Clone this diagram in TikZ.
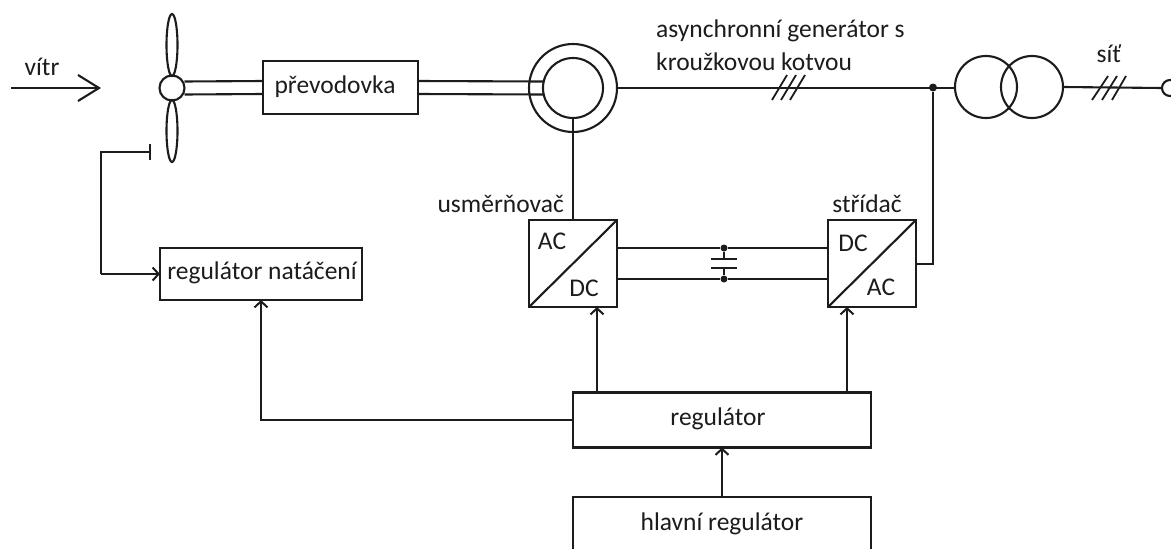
\documentclass[tikz,border=0pt]{standalone}
\usepackage{fontspec}
\setmainfont{Carlito}
\usetikzlibrary{arrows.meta,shapes.geometric}
\definecolor{ink}{HTML}{1C1C1C}
\tikzset{
  wire/.style={draw=ink,line width=2.1pt},
  arr/.style={wire,-{Straight Barb[length=6pt,width=13pt,line width=2pt]}},
  bigarr/.style={wire,-{Straight Barb[length=21pt,width=26pt,line width=2.1pt]}},
  tee/.style={wire,-{Bar[width=16pt,line width=2.1pt]}},
  blockbox/.style={draw=ink,line width=2.1pt,rectangle,inner sep=0pt,outer sep=0pt},
  ring/.style={draw=ink,line width=2.1pt,circle,inner sep=0pt,outer sep=0pt},
  blade/.style={draw=ink,line width=2.1pt,ellipse,inner sep=0pt,outer sep=0pt,minimum width=11pt,minimum height=62pt},
  lab/.style={text=ink,inner sep=0pt,font=\fontsize{25.5}{25.5}\selectfont},
  dotn/.style={circle,fill=ink,inner sep=0pt,minimum size=8pt},
  tick/.style={draw=ink,line width=1.8pt}
}
\begin{document}
\begin{tikzpicture}[x=1pt,y=-1pt]
\useasboundingbox (0,0) rectangle (1171,549);
\clip (0,0) rectangle (1171,549);
\fill[white] (0,0) rectangle (1171,549);

% boxes
\node[blockbox,minimum width=155pt,minimum height=53pt] (gear) at (340.5,87.5) {};
\node[lab] (gearlabel) at (335,87) {převodovka};
\node[blockbox,minimum width=202pt,minimum height=52pt] (pitch) at (261,274) {};
\node[lab] (pitchlabel) at (262,273) {regulátor natáčení};
\node[blockbox,minimum width=88pt,minimum height=87pt] (rect) at (573,263.5) {};
\node[blockbox,minimum width=88pt,minimum height=87pt] (inv) at (872,263.5) {};
\node[blockbox,minimum width=298pt,minimum height=55pt] (reg) at (722,420) {};
\node[lab] (reglabel) at (718,419) {regulátor};
\node[blockbox,minimum width=298pt,minimum height=80pt] (main) at (722,537) {};
\node[lab] (mainlabel) at (722,524) {hlavní regulátor};

% rotor
\node[ring,minimum size=25pt] (hub) at (172,88) {};
\node[blade] (bladeup) at (172,45) {};
\node[blade] (bladedown) at (172,131) {};

% generator
\node[ring,minimum size=88pt] (genout) at (573,88) {};
\node[ring,minimum size=60pt] (genin) at (573,88) {};

% transformer
\node[ring,minimum size=62pt] (tra) at (986,87) {};
\node[ring,minimum size=62pt] (trb) at (1032,87) {};

% grid terminal
\node[ring,minimum size=16pt] (term) at (1170,88) {};

% named free ends and junctions
\coordinate (windstart) at (11,88);
\coordinate (windend) at (101,88);
\coordinate (pitchbar) at (151,152);
\node[dotn] (junc) at (933,87.5) {};
\node[dotn,minimum size=7pt] (captop) at (724,248) {};
\node[dotn,minimum size=7pt] (capbot) at (724,279) {};
\coordinate (platea) at (724,259);
\coordinate (plateb) at (724,268);

% text
\node[lab] (vitr) at (42,67) {vítr};
\node[lab,anchor=west] (gena) at (656,31) {asynchronní generátor s};
\node[lab,anchor=west] (genb) at (656,62) {kroužkovou kotvou};
\node[lab] (sit) at (1109,54) {síť};
\node[lab,anchor=east] (usm) at (564,204) {usměrňovač};
\node[lab] (str) at (867,204) {střídač};
\node[lab] (acr) at (552,241) {AC};
\node[lab] (dcr) at (584,288) {DC};
\node[lab] (dci) at (853,243) {DC};
\node[lab] (aci) at (881,287) {AC};

% connectors
\draw[bigarr] (windstart) -- (windend);
\draw[wire] ([yshift=6.5pt]hub.east) -- ([yshift=6.5pt]gear.west);
\draw[wire] ([yshift=-6.5pt]hub.east) -- ([yshift=-6.5pt]gear.west);
\draw[wire] ([yshift=6.5pt]gear.east) -- ([yshift=6.5pt]genin.west);
\draw[wire] ([yshift=-6.5pt]gear.east) -- ([yshift=-6.5pt]genin.west);
\draw[wire] (genout.east) -- (tra.west |- genout.east);
\draw[wire] (trb.east) -- (term.west);
\draw[wire] (genin.south) -- (rect.north);
\draw[wire] (rect.south west) -- (rect.north east);
\draw[wire] (inv.south west) -- (inv.north east);
\draw[wire] ([yshift=-0.5pt]inv.east) -- ([yshift=-0.5pt]inv.east -| junc) -- (junc);
\draw[wire] (rect.east |- captop) -- (captop) -- (inv.west |- captop);
\draw[wire] (rect.east |- capbot) -- (capbot) -- (inv.west |- capbot);
\draw[wire] (captop) -- (platea);
\draw[wire] (capbot) -- (plateb);
\draw[wire] ([xshift=-13pt]platea) -- ([xshift=13pt]platea);
\draw[wire] ([xshift=-13pt]plateb) -- ([xshift=13pt]plateb);
\draw[tee] (pitch.west) ++(-59,0) coordinate (pitchcorner) |- (pitchbar);
\draw[arr] (pitchcorner) -- (pitch.west);
\draw[arr] (reg.west) -| (pitch.south);
\draw[arr] ([xshift=24pt]reg.north west) -- ([xshift=24pt]rect.south);
\draw[arr] ([xshift=-24pt]reg.north east) -- ([xshift=-25pt]inv.south);
\draw[arr] (main.north) -- (reg.south);

% phase ticks
\draw[tick] (772,100) -- (787,75) (781,100) -- (796,75) (790,100) -- (805,75);
\draw[tick] (1092,100) -- (1108,76) (1102,100) -- (1117,76) (1112,100) -- (1126,76);
\end{tikzpicture}
\end{document}
